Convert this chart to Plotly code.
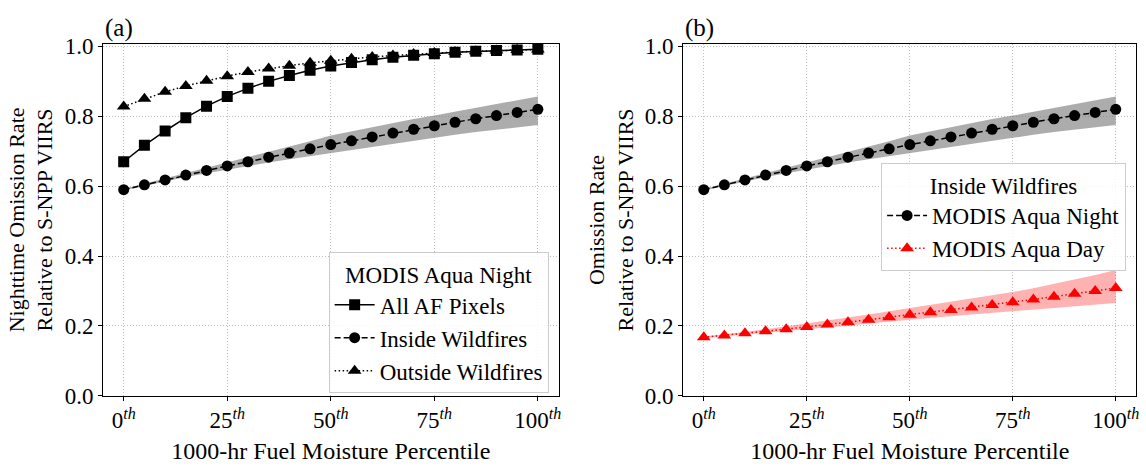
import plotly.graph_objects as go

# ---------------- data ----------------
percentile = [0, 5, 10, 15, 20, 25, 30, 35, 40, 45, 50, 55, 60, 65, 70, 75, 80, 85, 90, 95, 100]

all_af = [0.670, 0.717, 0.758, 0.796, 0.829, 0.857, 0.880, 0.900, 0.917, 0.932, 0.944,
          0.954, 0.962, 0.969, 0.975, 0.979, 0.983, 0.986, 0.988, 0.990, 0.992]
outside = [0.828, 0.850, 0.870, 0.887, 0.902, 0.915, 0.927, 0.937, 0.945, 0.953, 0.959,
           0.965, 0.970, 0.974, 0.978, 0.981, 0.984, 0.986, 0.988, 0.990, 0.991]
inside = [0.590, 0.604, 0.618, 0.632, 0.645, 0.658, 0.670, 0.683, 0.695, 0.707, 0.719,
          0.730, 0.741, 0.752, 0.763, 0.773, 0.783, 0.793, 0.802, 0.811, 0.820]
inside_hi = [0.592, 0.607, 0.622, 0.638, 0.653, 0.668, 0.683, 0.699, 0.714, 0.729, 0.745,
             0.757, 0.769, 0.781, 0.792, 0.802, 0.813, 0.824, 0.835, 0.846, 0.857]
inside_lo = [0.588, 0.601, 0.614, 0.626, 0.637, 0.648, 0.658, 0.668, 0.677, 0.686, 0.694,
             0.703, 0.712, 0.721, 0.730, 0.739, 0.747, 0.755, 0.762, 0.769, 0.775]
day = [0.168, 0.173, 0.179, 0.185, 0.191, 0.197, 0.204, 0.211, 0.218, 0.225, 0.232,
       0.239, 0.246, 0.253, 0.260, 0.268, 0.276, 0.284, 0.292, 0.300, 0.309]
day_hi = [0.170, 0.176, 0.183, 0.191, 0.199, 0.207, 0.216, 0.224, 0.233, 0.242, 0.251,
          0.260, 0.269, 0.278, 0.287, 0.297, 0.308, 0.320, 0.333, 0.346, 0.360]
day_lo = [0.166, 0.171, 0.176, 0.180, 0.185, 0.189, 0.195, 0.201, 0.207, 0.213, 0.218,
          0.223, 0.228, 0.233, 0.238, 0.243, 0.248, 0.252, 0.257, 0.262, 0.266]

x_tick_vals = [0, 25, 50, 75, 100]
x_tick_text = ["0<sup><i>th</i></sup>", "25<sup><i>th</i></sup>", "50<sup><i>th</i></sup>",
               "75<sup><i>th</i></sup>", "100<sup><i>th</i></sup>"]
y_tick_vals = [0.0, 0.2, 0.4, 0.6, 0.8, 1.0]

x_title = "1000-hr Fuel Moisture Percentile"
y_title_a = "Nighttime Omission Rate<br>Relative to S-NPP VIIRS"
y_title_b = "Omission Rate<br>Relative to S-NPP VIIRS"

FONT = "Liberation Serif"
GRAY_BAND = "rgba(128,128,128,0.65)"
RED_BAND = "rgba(255,0,0,0.30)"

fig = go.Figure()

# ---------------- panel (a) ----------------
fig.add_trace(go.Scatter(x=percentile, y=inside_lo, mode="lines", line=dict(width=0),
                         showlegend=False, hoverinfo="skip", xaxis="x", yaxis="y"))
fig.add_trace(go.Scatter(x=percentile, y=inside_hi, mode="lines", line=dict(width=0),
                         fill="tonexty", fillcolor=GRAY_BAND, showlegend=False,
                         hoverinfo="skip", xaxis="x", yaxis="y"))
fig.add_trace(go.Scatter(x=percentile, y=outside, mode="lines+markers", name="Outside Wildfires",
                         line=dict(color="black", width=1.5, dash="1.5px,2.5px"),
                         marker=dict(symbol="triangle-up", size=12, color="black"),
                         xaxis="x", yaxis="y", legend="legend", legendrank=3))
fig.add_trace(go.Scatter(x=percentile, y=all_af, mode="lines+markers", name="All AF Pixels",
                         line=dict(color="black", width=1.5),
                         marker=dict(symbol="square", size=11, color="black"),
                         xaxis="x", yaxis="y", legend="legend", legendrank=1))
fig.add_trace(go.Scatter(x=percentile, y=inside, mode="lines+markers", name="Inside Wildfires",
                         line=dict(color="black", width=1.5, dash="6px,3px"),
                         marker=dict(symbol="circle", size=11, color="black"),
                         xaxis="x", yaxis="y", legend="legend", legendrank=2))

# ---------------- panel (b) ----------------
fig.add_trace(go.Scatter(x=percentile, y=inside_lo, mode="lines", line=dict(width=0),
                         showlegend=False, hoverinfo="skip", xaxis="x2", yaxis="y2"))
fig.add_trace(go.Scatter(x=percentile, y=inside_hi, mode="lines", line=dict(width=0),
                         fill="tonexty", fillcolor=GRAY_BAND, showlegend=False,
                         hoverinfo="skip", xaxis="x2", yaxis="y2"))
fig.add_trace(go.Scatter(x=percentile, y=day_lo, mode="lines", line=dict(width=0),
                         showlegend=False, hoverinfo="skip", xaxis="x2", yaxis="y2"))
fig.add_trace(go.Scatter(x=percentile, y=day_hi, mode="lines", line=dict(width=0),
                         fill="tonexty", fillcolor=RED_BAND, showlegend=False,
                         hoverinfo="skip", xaxis="x2", yaxis="y2"))
fig.add_trace(go.Scatter(x=percentile, y=inside, mode="lines+markers", name="MODIS Aqua Night",
                         line=dict(color="black", width=1.5, dash="6px,3px"),
                         marker=dict(symbol="circle", size=11, color="black"),
                         xaxis="x2", yaxis="y2", legend="legend2", legendrank=1))
fig.add_trace(go.Scatter(x=percentile, y=day, mode="lines+markers", name="MODIS Aqua Day",
                         line=dict(color="red", width=1.5, dash="1.5px,2.5px"),
                         marker=dict(symbol="triangle-up", size=12, color="red"),
                         xaxis="x2", yaxis="y2", legend="legend2", legendrank=2))

xaxis_common = dict(range=[-5, 105], tickvals=x_tick_vals, ticktext=x_tick_text,
                    showline=True, linecolor="black", linewidth=1, mirror=True,
                    ticks="outside", ticklen=4, tickcolor="black",
                    showgrid=True, gridcolor="#bdbdbd", griddash="1px,2px", gridwidth=1,
                    zeroline=False, tickfont=dict(size=23, family=FONT, color="black"),
                    title=dict(text=x_title, font=dict(size=24, family=FONT, color="black"),
                               standoff=9))
yaxis_common = dict(range=[0, 1.007], tickvals=y_tick_vals, tickformat=".1f",
                    showline=True, linecolor="black", linewidth=1, mirror=True,
                    ticks="outside", ticklen=4, tickcolor="black",
                    showgrid=True, gridcolor="#bdbdbd", griddash="1px,2px", gridwidth=1,
                    zeroline=False, tickfont=dict(size=23, family=FONT, color="black"),
                    domain=[0.1306, 0.9214])

legend_common = dict(bgcolor="rgba(255,255,255,0.85)", bordercolor="#cccccc", borderwidth=1,
                     font=dict(size=23, family=FONT, color="black"),
                     xanchor="right", yanchor="bottom", itemwidth=40,
                     traceorder="normal")

fig.update_layout(
    width=1146, height=467,
    margin=dict(l=0, r=0, t=0, b=0),
    paper_bgcolor="white", plot_bgcolor="white",
    font=dict(family=FONT, color="black"),
    xaxis=dict(**xaxis_common, domain=[0.0901, 0.4887], anchor="y"),
    xaxis2=dict(**xaxis_common, domain=[0.5977, 0.9942], anchor="y2"),
    yaxis=dict(**yaxis_common, anchor="x",
               title=dict(text=y_title_a, font=dict(size=22, family=FONT, color="black"), standoff=5)),
    yaxis2=dict(**yaxis_common, anchor="x2",
                title=dict(text=y_title_b, font=dict(size=22, family=FONT, color="black"), standoff=5)),
    legend=dict(**legend_common, x=0.480, y=0.136,
                title=dict(text="MODIS Aqua Night", side="top center",
                           font=dict(size=23, family=FONT, color="black"))),
    legend2=dict(**legend_common, x=0.9852, y=0.411,
                 title=dict(text="Inside Wildfires", side="top center",
                            font=dict(size=23, family=FONT, color="black"))),
    annotations=[
        dict(text="(a)", xref="paper", yref="paper", x=0.0899, y=0.9214,
             xanchor="left", yanchor="bottom", showarrow=False,
             font=dict(size=25, family=FONT, color="black")),
        dict(text="(b)", xref="paper", yref="paper", x=0.5975, y=0.9214,
             xanchor="left", yanchor="bottom", showarrow=False,
             font=dict(size=25, family=FONT, color="black")),
    ],
)

fig.write_html("out.html")
